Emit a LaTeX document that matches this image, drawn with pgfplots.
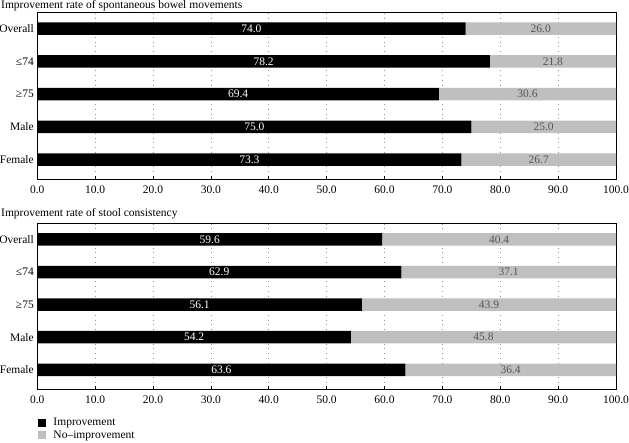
\documentclass[border=0pt]{standalone}
\usepackage{pgfplots}
\usepackage{pgfplotstable}
\pgfplotsset{compat=1.18}
\usepackage{fontspec}
\setmainfont{Liberation Serif}
\definecolor{nogray}{RGB}{191,191,191}
\definecolor{labgray}{RGB}{85,85,85}
\definecolor{gridgray}{RGB}{150,150,150}

\pgfplotstableread{
cat imp no
0 74.0 26.0
1 78.2 21.8
2 69.4 30.6
3 75.0 25.0
4 73.3 26.7
}\bowel
\pgfplotstableread{
cat imp no
0 59.6 40.4
1 62.9 37.1
2 56.1 43.9
3 54.2 45.8
4 63.6 36.4
}\stool

\pgfplotsset{
  base/.style={
    scale only axis, width=578.7pt,
    xmin=0, xmax=100, ymin=-0.49, ymax=4.6, y dir=reverse,
    anchor=north west,
  },
  panel/.style={
    base,
    xbar stacked, bar width=12.5pt,
    xtick={0,10,...,100},
    ytick={0,1,2,3,4},
    yticklabels={Overall,≤74,≥75,Male,Female},
    ytick style={draw=none},
    tick pos=bottom, tick align=inside, major tick length=3pt,
    xtick style={black, line width=0.6pt},
    xmajorgrids, grid style={gridgray, line width=0.6pt, dash pattern=on 0.8pt off 4pt},
    axis line style={line width=0.8pt},
    xticklabel style={yshift=-3pt, /pgf/number format/.cd, fixed, fixed zerofill, precision=1, assume math mode=true},
    ticklabel style={font=\fontsize{11.5}{13}\selectfont},
  },
  labs/.style={
    base, hide axis, clip=false,
  },
  lab/.style={
    only marks, mark=none, point meta=explicit,
    nodes near coords={\pgfmathprintnumber[fixed,fixed zerofill,precision=1,assume math mode=true]{\pgfplotspointmeta}},
    nodes near coords style={anchor=center, font=\fontsize{11.5}{13}\selectfont, text=#1},
  },
}

\begin{document}
\begin{tikzpicture}
\path[use as bounding box] (0pt,0pt) rectangle (629pt,-442pt);
\node[anchor=mid west, inner sep=0pt, font=\fontsize{11.5}{13}\selectfont] at (1pt,-6pt) {Improvement rate of spontaneous bowel movements};
\node[anchor=mid west, inner sep=0pt, font=\fontsize{11.5}{13}\selectfont] at (1pt,-214pt) {Improvement rate of stool consistency};

\begin{axis}[panel, at={(37.3pt,-12.7pt)}, height=166.6pt]
\addplot[fill=black, draw=none] table[x=imp, y=cat] {\bowel};
\addplot[fill=nogray, draw=none] table[x=no, y=cat] {\bowel};
\end{axis}
\begin{axis}[labs, at={(37.3pt,-12.7pt)}, height=166.6pt]
\addplot[lab=white] table[x expr=\thisrow{imp}/2, y=cat, meta=imp] {\bowel};
\addplot[lab=labgray] table[x expr=\thisrow{imp}+\thisrow{no}/2, y=cat, meta=no] {\bowel};
\end{axis}

\begin{axis}[panel, at={(37.3pt,-223.5pt)}, height=165.8pt,
  legend style={at={(0,0)}, anchor=north west, yshift=-26.5pt, draw=none, fill=none, inner sep=0pt,
    font=\fontsize{11.5}{13}\selectfont, row sep=-0.5pt, cells={anchor=west}},
  legend image code/.code={\fill[#1] (0pt,-4pt) rectangle (8pt,4pt);},
  ]
\addplot[fill=black, draw=none] table[x=imp, y=cat] {\stool};
\addplot[fill=nogray, draw=none] table[x=no, y=cat] {\stool};
\legend{\hspace{6pt}Improvement, \hspace{6pt}No–improvement}
\end{axis}
\begin{axis}[labs, at={(37.3pt,-223.5pt)}, height=165.8pt]
\addplot[lab=white] table[x expr=\thisrow{imp}/2, y=cat, meta=imp] {\stool};
\addplot[lab=labgray] table[x expr=\thisrow{imp}+\thisrow{no}/2, y=cat, meta=no] {\stool};
\end{axis}
\end{tikzpicture}
\end{document}
